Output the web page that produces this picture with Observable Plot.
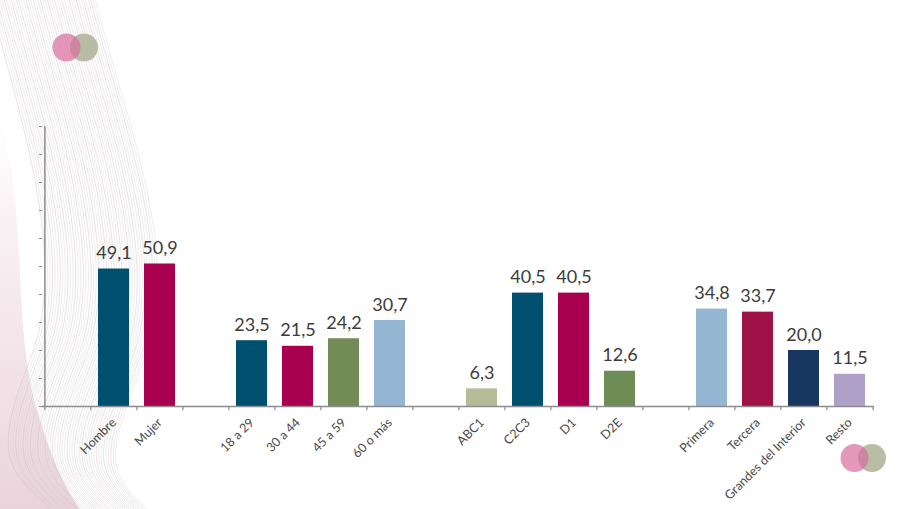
<!DOCTYPE html>
<html><head><meta charset="utf-8">
<script src="https://cdn.jsdelivr.net/npm/d3@7"></script>
<script src="https://cdn.jsdelivr.net/npm/@observablehq/plot@0.6"></script>
<style>
body{margin:0;background:#fff;}
#wrap{position:relative;width:904px;height:509px;overflow:hidden;font-family:Lato,sans-serif;background:#fff;}
#decor{position:absolute;left:0;top:0;}
#chart{position:absolute;left:0;top:0;}
</style></head><body>
<div id="wrap"><svg id="decor" width="904" height="509"></svg><div id="chart"></div></div>
<script>
// x slots (the "_gN" entries are empty spacer slots between groups)
const categories = ["_g0","Hombre","Mujer","_g1","18 a 29","30 a 44","45 a 59","60 o más","_g2","ABC1","C2C3","D1","D2E","_g3","Primera","Tercera","Grandes del Interior","Resto"];
const barCategories = ["Hombre","Mujer","18 a 29","30 a 44","45 a 59","60 o más","ABC1","C2C3","D1","D2E","Primera","Tercera","Grandes del Interior","Resto"];
const values = [49.1,50.9,23.5,21.5,24.2,30.7,6.3,40.5,40.5,12.6,34.8,33.7,20.0,11.5];
const barColors = ["#004f6e","#a8004f","#004f6e","#a8004f","#738c57","#94b6d3","#b6bb98","#004f6e","#a8004f","#6e8c55","#94b6d3","#9e1248","#173660","#afa0c8"];
const yTicks = [0,10,20,30,40,50,60,70,80,90,100];

const bars = barCategories.map((c,i)=>({cat:c, value:values[i], color:barColors[i]}));

// decoration (background swirl + logo circles)
const decor = d3.select("#decor");
const defs = decor.append("defs");
const g1 = defs.append("linearGradient").attr("id","pinkfade").attr("x1",0).attr("y1",0).attr("x2",0).attr("y2",1);
g1.append("stop").attr("offset","0").attr("stop-color","#e8c8d0").attr("stop-opacity",0);
g1.append("stop").attr("offset","0.4").attr("stop-color","#e6c6cf").attr("stop-opacity",0.35);
g1.append("stop").attr("offset","1").attr("stop-color","#d9b0bf").attr("stop-opacity",0.55);
decor.append("path").attr("d","M0,120 C30,220 10,330 40,420 C55,470 70,495 80,509 L0,509 Z").attr("fill","url(#pinkfade)");
for (let i=0;i<45;i++){
  const x0 = -10 + i*2.4, x1 = 30 + i*2.6, x2 = 20 + i*2.2;
  decor.append("path")
    .attr("d",`M${x0},0 C${x0+30},120 ${x1+40},260 ${x1},360 S${x2-10},470 ${x2+30},509`)
    .attr("fill","none").attr("stroke", i%3===0 ? "#c9b3ba" : "#cfcfcf")
    .attr("stroke-opacity",0.55).attr("stroke-width",0.7);
}
function logo(cx, cy){
  decor.append("circle").attr("cx",cx+17.5).attr("cy",cy).attr("r",14).attr("fill","#aeb197").attr("opacity",0.85);
  decor.append("circle").attr("cx",cx).attr("cy",cy).attr("r",14).attr("fill","#d96c9c").attr("opacity",0.7);
}
logo(66.5,47.5);
logo(854.5,458);

const step = (904-42-30)/categories.length;

const chart = Plot.plot({
  width: 904, height: 509,
  marginLeft: 42, marginRight: 30, marginTop: 126, marginBottom: 103,
  style: {background: "transparent", fontFamily: "Lato, sans-serif", overflow: "visible"},
  x: {domain: categories, paddingInner: 0.33, paddingOuter: 0.165, label: null},
  y: {domain: [0,100], label: null},
  marks: [
    Plot.barY(bars, {x: "cat", y: "value", fill: "color"}),
    Plot.text(bars, {x: "cat", y: "value", text: d => d.value.toFixed(1).replace(".", ","), dy: -10, lineAnchor: "bottom", fontSize: 18, fill: "#3c3c3c"}),
    Plot.ruleY([0], {stroke: "#8c8c8c", strokeWidth: 1.5}),
    Plot.ruleX([categories[0]], {y1: 0, y2: 100, dx: -step/2, stroke: "#8c8c8c", strokeWidth: 1.5}),
    Plot.ruleX(categories, {y1: 0, y2: -1.5, dx: -step/2, stroke: "#8c8c8c", strokeWidth: 1.2}),
    Plot.ruleX([categories[categories.length-1]], {y1: 0, y2: -1.5, dx: step/2, stroke: "#8c8c8c", strokeWidth: 1.2}),
    Plot.axisY({ticks: yTicks, tickSize: 3, tickFormat: () => "", stroke: "#8c8c8c"}),
    Plot.axisX({tickSize: 0, tickRotate: -45, tickPadding: 14, fontSize: 12.5, fill: "#4a4a4a", tickFormat: d => d.startsWith("_") ? "" : d})
  ]
});
document.getElementById("chart").appendChild(chart);
</script>
</body></html>
